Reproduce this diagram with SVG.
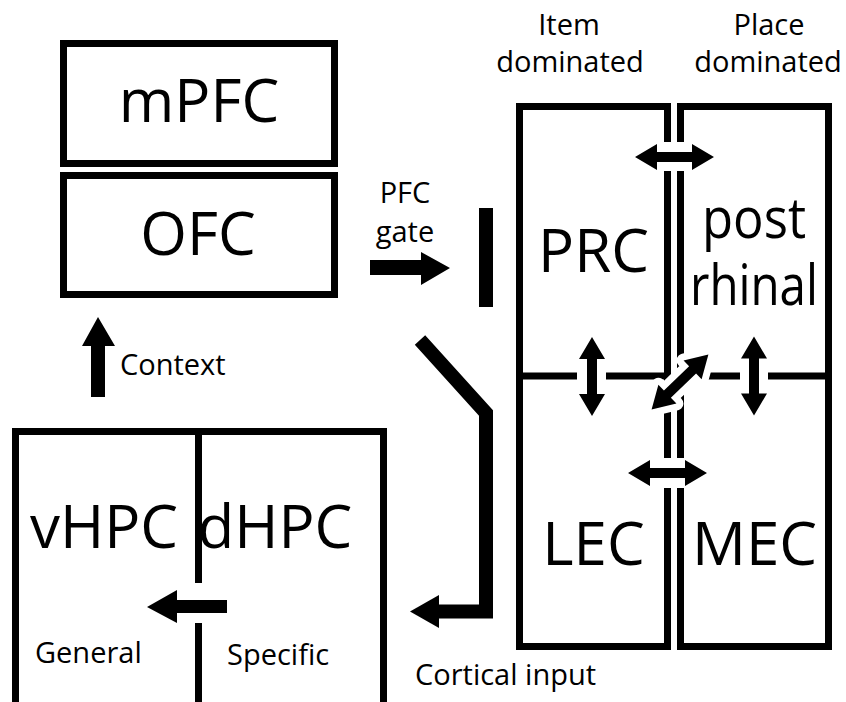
<svg xmlns="http://www.w3.org/2000/svg" xmlns:xlink="http://www.w3.org/1999/xlink" width="846" height="702" viewBox="0 0 846 702">
<style>
.box{fill:none;stroke:#000;stroke-width:7}
.line{stroke:#000;stroke-width:7;fill:none}
.big{font-family:"Open Sans","Noto Sans","Liberation Sans",sans-serif;font-size:60px;fill:#000;text-anchor:middle}
.pr{font-size:57px}
.small{font-family:"Open Sans","Noto Sans","Liberation Sans",sans-serif;font-size:29px;fill:#000}
.head{font-family:"Open Sans","Noto Sans","Liberation Sans",sans-serif;font-size:29px;fill:#000;text-anchor:middle}
.gap{fill:#fff}
.arrow{fill:#000}
.halo{fill:#fff;stroke:#fff;stroke-width:14;stroke-linejoin:round}
.thick{fill:none;stroke:#000;stroke-width:14;stroke-linejoin:miter}
</style>
<defs>
<path id="dbl" d="M-39.5,0 L-17.5,-13 L-17.5,-5 L17.5,-5 L17.5,-13 L39.5,0 L17.5,13 L17.5,5 L-17.5,5 L-17.5,13 Z"/>
</defs>
<rect width="846" height="702" fill="#fff"/>

<g id="mPFC">
<rect class="box" x="63.5" y="43.5" width="271" height="120"/>
<text class="big" x="199" y="122">mPFC</text>
</g>
<g id="OFC">
<rect class="box" x="63.5" y="175.5" width="271" height="119"/>
<text class="big" x="198" y="255">OFC</text>
</g>

<g id="HPC">
<rect class="box" x="15.5" y="431.5" width="368" height="280"/>
<line class="line" x1="198.5" y1="432" x2="198.5" y2="583"/>
<line class="line" x1="198.5" y1="623" x2="198.5" y2="705"/>
<g id="vHPC">
<text class="big" x="104" y="548">vHPC</text>
<text class="small" x="35" y="663">General</text>
</g>
<g id="dHPC">
<text class="big" x="275" y="548">dHPC</text>
<text class="small" x="227" y="665">Specific</text>
</g>
</g>

<g id="labels">
<text class="head" x="569" y="35">Item</text>
<text class="head" x="570" y="72">dominated</text>
<text class="head" x="769" y="35">Place</text>
<text class="head" x="768" y="72">dominated</text>
</g>

<g id="item-column">
<rect class="box" x="519.5" y="106.5" width="148" height="540"/>
<line class="line" x1="519" y1="376" x2="668" y2="376"/>
</g>
<g id="place-column">
<rect class="box" x="680.5" y="106.5" width="148" height="540"/>
<line class="line" x1="680" y1="376" x2="829" y2="376"/>
</g>
<g id="PRC"><text class="big" x="593.5" y="272">PRC</text></g>
<g id="postrhinal">
<text class="big pr" x="754" y="238" textLength="104" lengthAdjust="spacingAndGlyphs">post</text>
<text class="big pr" x="754" y="305" textLength="128" lengthAdjust="spacingAndGlyphs">rhinal</text>
</g>
<g id="LEC"><text class="big" x="593.5" y="565">LEC</text></g>
<g id="MEC"><text class="big" x="754.5" y="565">MEC</text></g>

<g id="connectors">
<rect class="gap" x="662" y="142" width="24" height="29"/>
<rect class="gap" x="662" y="458" width="24" height="30"/>
<rect class="gap" x="577" y="370" width="29" height="12"/>
<rect class="gap" x="740" y="370" width="28" height="12"/>
<use xlink:href="#dbl" class="arrow" transform="translate(674.5,157)"/>
<use xlink:href="#dbl" class="arrow" transform="translate(667.5,473)"/>
<use xlink:href="#dbl" class="arrow" transform="translate(592,376.5) rotate(90)"/>
<use xlink:href="#dbl" class="arrow" transform="translate(754,376) rotate(90)"/>
<use xlink:href="#dbl" class="halo" transform="translate(680,382) rotate(-44)"/>
<use xlink:href="#dbl" class="arrow" transform="translate(680,382) rotate(-44)"/>
<polygon class="arrow" points="91,397 91,346 82,346 98,317 115,346 105,346 105,397"/>
<text class="small" x="120" y="375">Context</text>
<polygon class="arrow" points="370,260 421,260 421,252 450,268 421,285 421,275 370,275"/>
<text class="small" x="405" y="203" text-anchor="middle">PFC</text>
<text class="small" x="405" y="242" text-anchor="middle">gate</text>
<rect class="arrow" x="479" y="208" width="14" height="99"/>
<path class="thick" d="M420,340 L486,413 L486,611.5 L438,611.5"/>
<polygon class="arrow" points="439,595 410,611.5 439,628"/>
<text class="small" x="415" y="685">Cortical input</text>
<polygon class="arrow" points="227,600 177,600 177,590 147,607 177,623 177,613 227,613"/>
</g>
</svg>
